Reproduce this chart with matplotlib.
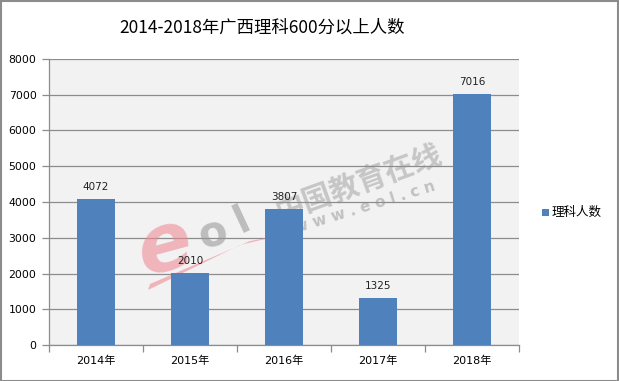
import matplotlib
matplotlib.use("Agg")
import matplotlib.pyplot as plt
from matplotlib.patches import Rectangle, Polygon
import numpy as np

plt.rcParams['font.family'] = ['DejaVu Sans', 'Noto Sans CJK SC']

categories = ["2014年", "2015年", "2016年", "2017年", "2018年"]
values = [4072, 2010, 3807, 1325, 7016]
series_name = "理科人数"
title = "2014-2018年广西理科600分以上人数"

W, H = 619, 381
fig = plt.figure(figsize=(W / 100, H / 100), dpi=100)
fig.patch.set_facecolor("white")

def fx(px):
    return px / W

def fy(py):
    return 1 - py / H

# plot area in pixels
left, right, top, bottom = 49, 519, 59, 345
ax = fig.add_axes([fx(left), fy(bottom), (right - left) / W, (bottom - top) / H])
ax.set_facecolor("#F2F2F2")

x = np.arange(len(categories))
bar_color = "#4F81BD"
ax.bar(x, values, width=0.4, color=bar_color, zorder=3)
for xi, v in zip(x, values):
    ax.annotate(f"{v}", (xi, v), xytext=(0, 5), textcoords="offset points",
                ha="center", va="bottom", fontsize=7.5, color="#222222",
                family=['DejaVu Sans'])

ax.set_xlim(-0.5, len(categories) - 0.5)
ax.set_ylim(0, 8000)
ax.set_yticks(np.arange(0, 8001, 1000))
ax.yaxis.grid(True, color="#8C8C8C", linewidth=0.9, zorder=0)
ax.set_axisbelow(True)

ax.set_xticks(x)
ax.set_xticklabels(categories, fontsize=8, family=['DejaVu Sans', 'Noto Sans CJK SC'])
ax.set_xticks(np.arange(-0.5, len(categories), 1), minor=True)
ax.tick_params(axis="x", which="major", length=0, pad=8)
ax.tick_params(axis="x", which="minor", length=5, color="#8C8C8C", width=0.9)
ax.tick_params(axis="y", length=5, color="#8C8C8C", width=0.9, labelsize=7.8, pad=4)
for lab in ax.get_yticklabels():
    lab.set_family(['DejaVu Sans'])

for s in ["top", "right"]:
    ax.spines[s].set_visible(False)
for s in ["left", "bottom"]:
    ax.spines[s].set_color("#8C8C8C")
    ax.spines[s].set_linewidth(0.9)

# watermark (behind bars)
tf = fig.transFigure
ax.add_patch(Polygon([(fx(148), fy(290)), (fx(240), fy(245)), (fx(278), fy(236)),
                      (fx(250), fy(241)), (fx(150), fy(284))],
                     closed=True, transform=tf, facecolor="#F08A96", alpha=0.6,
                     edgecolor="none", zorder=2, clip_on=False))
ax.text(fx(165), fy(248), "e", transform=tf, ha="center", va="center", fontsize=58,
        style="italic", weight="bold", color="#F08A96", alpha=0.6, rotation=15,
        zorder=2, family=['DejaVu Sans'])
ax.text(fx(213), fy(234), "o", transform=tf, ha="center", va="center", fontsize=30,
        weight="bold", color="#999999", alpha=0.6, rotation=15, zorder=2,
        family=['DejaVu Sans'])
ax.text(fx(242), fy(220), "l", transform=tf, ha="center", va="center", fontsize=28,
        weight="bold", color="#999999", alpha=0.6, rotation=25, zorder=2,
        family=['DejaVu Sans'])
ax.text(fx(358), fy(183), "中国教育在线", transform=tf, ha="center", va="center",
        fontsize=21, rotation=20, color="#909090", alpha=0.45, weight="bold",
        family=['Noto Sans CJK SC'], zorder=2)
ax.text(fx(365), fy(207), "w w w . e o l . c n", transform=tf, ha="center",
        va="center", fontsize=11, rotation=17, color="#909090", alpha=0.5,
        weight="bold", zorder=2)

# title
fig.text(fx(262), fy(28), title, ha="center", va="center", fontsize=12.5,
         family=['Noto Sans CJK SC'], color="black")

# legend
fig.patches.append(Rectangle((fx(542), fy(216)), 7 / W, 7 / H,
                             transform=tf, facecolor=bar_color, edgecolor="none"))
fig.text(fx(552), fy(212), series_name, ha="left", va="center", fontsize=9,
         family=['Noto Sans CJK SC'], color="black")

# outer border
fig.patches.append(Rectangle((0.5 / W, 0.5 / H), 1 - 1.5 / W, 1 - 1.5 / H,
                             transform=tf, facecolor="none",
                             edgecolor="#8C8C8C", linewidth=1.5))

fig.savefig("out.png", dpi=100)
